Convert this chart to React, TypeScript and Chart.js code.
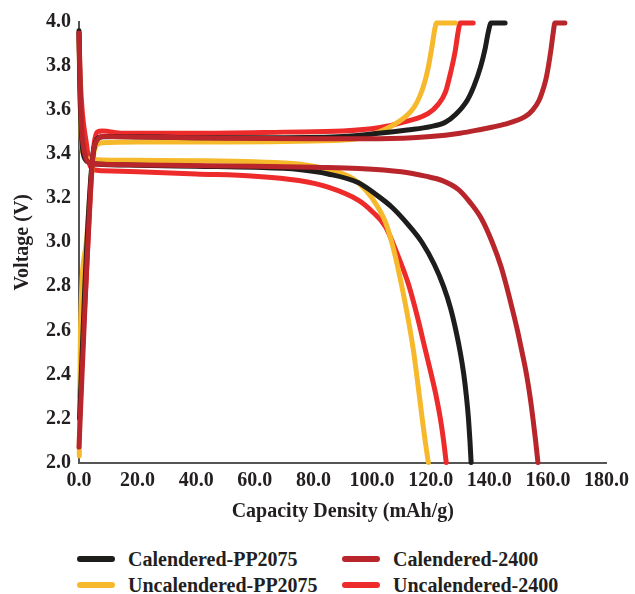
import React, { useEffect, useRef } from "react";
import { Chart, registerables } from "chart.js";

Chart.register(...registerables);

// Capacity density (mAh/g), voltage (V) pairs
const calPP2075Charge: number[][] = [
  [0.2, 2.2], [2, 2.8], [3.8, 3.25], [4.8, 3.4], [5.8, 3.46], [7.5, 3.478], [12, 3.48], [40, 3.475],
  [70, 3.475], [90, 3.48], [102.2, 3.495], [112, 3.51], [120, 3.525], [125, 3.545], [128.5, 3.58],
  [132.5, 3.645], [134.8, 3.71], [137, 3.795], [138.6, 3.88], [139.6, 3.95],
  [140.6, 3.995], [145.4, 3.995],
];
const calPP2075Discharge: number[][] = [
  [0, 3.96], [0.3, 3.7], [0.8, 3.5], [1.5, 3.4], [3, 3.365], [6, 3.355], [20, 3.35], [40, 3.345],
  [60, 3.34], [75, 3.33], [85, 3.31], [95.4, 3.27], [101, 3.22], [106.7, 3.16], [112.3, 3.08],
  [117, 3.0], [121.2, 2.9], [124.4, 2.8], [126.8, 2.7], [128.6, 2.6], [130.1, 2.5], [131.3, 2.4],
  [132.2, 2.3], [132.9, 2.2], [133.4, 2.1], [133.8, 2.0],
];
const cal2400Charge: number[][] = [
  [0, 2.07], [2, 2.7], [4.2, 3.3], [5, 3.42], [6, 3.46], [8, 3.48], [20, 3.478], [50, 3.472],
  [80, 3.47], [102.2, 3.47], [120, 3.48], [130, 3.495], [136.2, 3.51], [145, 3.535], [152.2, 3.57],
  [154.8, 3.6], [157, 3.645], [158.5, 3.7], [159.5, 3.75], [161, 3.87], [161.8, 3.95], [162.4, 3.995],
  [165.8, 3.995],
];
const cal2400Discharge: number[][] = [
  [0, 3.95], [0.4, 3.7], [1, 3.5], [2, 3.4], [3.5, 3.36], [6, 3.355], [30, 3.35], [60, 3.345],
  [80, 3.34], [95.4, 3.335], [110, 3.32], [118.2, 3.3], [124, 3.28], [129.4, 3.24], [133.5, 3.18],
  [137.2, 3.11], [141, 3.0], [144, 2.89], [145.9, 2.8], [147.8, 2.7], [149.6, 2.6], [151.2, 2.5],
  [152.7, 2.4], [153.9, 2.3], [154.9, 2.2], [155.8, 2.1], [156.6, 2.0],
];
const uncalPP2075Charge: number[][] = [
  [0.1, 2.03], [0.5, 2.6], [2.5, 3.0], [4.2, 3.3], [5, 3.4], [6, 3.44], [8, 3.452], [20, 3.455],
  [50, 3.455], [80, 3.46], [95, 3.47], [102.2, 3.5], [107, 3.53], [111.4, 3.57], [114.2, 3.61],
  [116.2, 3.66], [117.8, 3.72], [119.2, 3.795], [120.6, 3.9], [121.3, 3.96], [122, 3.995], [128.4, 3.995],
];
const uncalPP2075Discharge: number[][] = [
  [0, 3.92], [0.3, 3.7], [0.7, 3.5], [1.2, 3.41], [3, 3.38], [6, 3.375], [20, 3.372], [40, 3.37],
  [60, 3.365], [75, 3.355], [85, 3.33], [92, 3.3], [95.4, 3.27], [100, 3.2], [104.6, 3.09],
  [107.5, 2.96], [110, 2.81], [112.2, 2.66], [114.1, 2.51], [115.7, 2.35], [117.1, 2.2], [118.1, 2.1],
  [119.2, 2.0],
];
const uncal2400Charge: number[][] = [
  [0.3, 2.3], [2.5, 2.85], [4.5, 3.35], [5.2, 3.45], [6.2, 3.5], [8, 3.505], [15, 3.495], [40, 3.495],
  [70, 3.5], [90, 3.505], [102.2, 3.52], [112, 3.55], [119.2, 3.585], [122.5, 3.625], [125, 3.68],
  [126.8, 3.77], [128.4, 3.87], [129.3, 3.95], [130.1, 3.995], [134.5, 3.995],
];
const uncal2400Discharge: number[][] = [
  [0, 3.95], [0.4, 3.75], [1.2, 3.58], [2.5, 3.45], [3.5, 3.36], [5, 3.33], [8, 3.325], [20, 3.32],
  [40, 3.31], [60, 3.3], [75, 3.28], [85, 3.25], [95.4, 3.19], [100, 3.14], [104.6, 3.07],
  [108.5, 2.95], [112.4, 2.81], [115.5, 2.66], [118.2, 2.51], [120.2, 2.4], [121.9, 2.3],
  [123.3, 2.2], [124.4, 2.1], [125.3, 2.0],
];

const seriesNames = ["Calendered-PP2075", "Calendered-2400", "Uncalendered-PP2075", "Uncalendered-2400"];
const seriesColors = ["#1d1d1b", "#b8252b", "#f6b92b", "#ee2b2b"];
const seriesCurves = [
  [calPP2075Charge, calPP2075Discharge],
  [cal2400Charge, cal2400Discharge],
  [uncalPP2075Charge, uncalPP2075Discharge],
  [uncal2400Charge, uncal2400Discharge],
];
const drawOrder = [1, 0, 2, 3];

const xTitle = "Capacity Density (mAh/g)";
const yTitle = "Voltage (V)";

const FONT = "'Liberation Serif', 'Times New Roman', serif";
const TEXT = "#231f20";

export default function App() {
  const ref = useRef<HTMLCanvasElement | null>(null);

  useEffect(() => {
    if (!ref.current) return;
    const datasets: any[] = [];
    drawOrder.forEach((i) => {
      seriesCurves[i].forEach((curve, k) => {
        datasets.push({
          label: seriesNames[i] + (k === 0 ? " charge" : " discharge"),
          data: curve.map(([x, y]) => ({ x, y })),
          borderColor: seriesColors[i],
          backgroundColor: seriesColors[i],
          borderWidth: 5,
          pointRadius: 0,
          showLine: true,
          fill: false,
          cubicInterpolationMode: "monotone",
          borderCapStyle: "round",
          borderJoinStyle: "round",
          clip: false,
        });
      });
    });
    const chart = new Chart(ref.current, {
      type: "scatter",
      data: { datasets },
      options: {
        animation: false,
        responsive: false,
        devicePixelRatio: 1,
        layout: { padding: { left: 0, right: 26, top: 22, bottom: 0 } },
        plugins: { legend: { display: false }, tooltip: { enabled: false } },
        scales: {
          x: {
            type: "linear",
            min: 0,
            max: 180,
            afterFit: (s: any) => {
              s.height = 61.5;
            },
            grid: { display: false, drawTicks: false },
            border: { display: true, color: "#555555", width: 2 },
            ticks: {
              stepSize: 20,
              padding: 6,
              color: TEXT,
              font: { family: FONT, size: 20, weight: "bold" },
              callback: (v: any) => Number(v).toFixed(1),
              maxRotation: 0,
            },
            title: {
              display: true,
              text: xTitle,
              color: TEXT,
              padding: { top: 0, bottom: 0 },
              font: { family: FONT, size: 20, weight: "bold" },
            },
          },
          y: {
            type: "linear",
            min: 2,
            max: 4,
            afterFit: (s: any) => {
              s.width = 79;
            },
            grid: { display: false, drawTicks: false },
            border: { display: true, color: "#555555", width: 2 },
            ticks: {
              stepSize: 0.2,
              padding: 8,
              color: TEXT,
              font: { family: FONT, size: 20, weight: "bold" },
              callback: (v: any) => Number(v).toFixed(1),
            },
            title: {
              display: true,
              text: yTitle,
              color: TEXT,
              padding: { top: 11, bottom: 0 },
              font: { family: FONT, size: 20, weight: "bold" },
            },
          },
        },
      },
    });
    return () => chart.destroy();
  }, []);

  const legendPos = [
    { left: 77, top: 559 },
    { left: 342, top: 559 },
    { left: 77, top: 585 },
    { left: 342, top: 585 },
  ];

  return (
    <div style={{ position: "absolute", left: 0, top: 0, width: 635, height: 594, background: "#fff" }}>
      <canvas ref={ref} width={635} height={524} style={{ display: "block", width: 635, height: 524 }} />
      {seriesNames.map((name, i) => (
        <div
          key={name}
          style={{
            position: "absolute",
            left: legendPos[i].left,
            top: legendPos[i].top - 12,
            height: 24,
            display: "flex",
            alignItems: "center",
            whiteSpace: "nowrap",
          }}
        >
          <div style={{ width: 38, height: 6, borderRadius: 3, background: seriesColors[i], marginRight: 13 }} />
          <span style={{ fontFamily: FONT, fontWeight: "bold", fontSize: 20, color: TEXT, lineHeight: "24px" }}>
            {name}
          </span>
        </div>
      ))}
    </div>
  );
}
